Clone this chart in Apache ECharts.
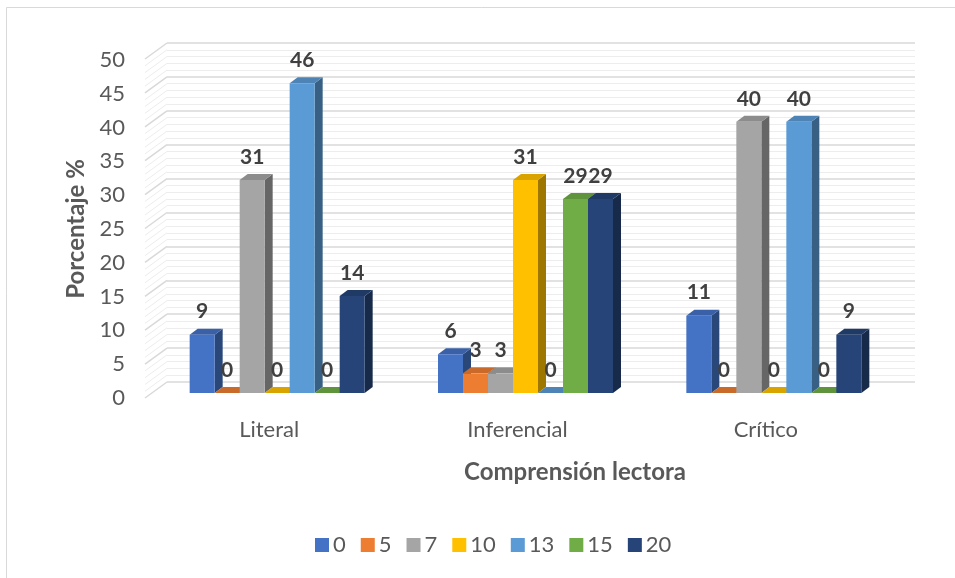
<!DOCTYPE html>
<html>
<head>
<meta charset="utf-8">
<script src="https://cdn.jsdelivr.net/npm/echarts@6/dist/echarts.min.js"></script>
<style>
  html, body { margin: 0; padding: 0; background: #fff; }
  #main { width: 955px; height: 578px; }
</style>
</head>
<body>
<div id="main"></div>
<script>
// categorias y valores (porcentaje por grupo)
var categories = ["Literal", "Inferencial", "Crítico"];
var seriesNames = ["0", "5", "7", "10", "13", "15", "20"];
var s0 = [8.6, 5.7, 11.4];
var s5 = [0, 2.9, 0];
var s7 = [31.4, 2.9, 40];
var s10 = [0, 31.4, 0];
var s13 = [45.7, 0, 40];
var s15 = [0, 28.6, 0];
var s20 = [14.3, 28.6, 8.6];
var seriesValues = [s0, s5, s7, s10, s13, s15, s20];
var colors = ["#4472C4", "#ED7D31", "#A5A5A5", "#FFC000", "#5B9BD5", "#70AD47", "#264478"];
var yTicks = { min: 0, max: 50, interval: 5 };

var FONT = "Lato, 'Open Sans', sans-serif";
var BAR_W = 25;
var DX = 8, DY = -6;

function shade(hex, f) {
  var n = parseInt(hex.slice(1), 16);
  var r = Math.round(((n >> 16) & 255) * f);
  var g = Math.round(((n >> 8) & 255) * f);
  var b = Math.round((n & 255) * f);
  return "rgb(" + r + "," + g + "," + b + ")";
}

var chart = echarts.init(document.getElementById("main"));

// pared lateral: diagonales de la rejilla
function renderSideWall(params, api) {
  var children = [];
  for (var v = yTicks.min; v <= yTicks.max; v++) {
    var p = api.coord([0, v]);
    children.push({
      type: "line",
      shape: { x1: p[0], y1: p[1], x2: p[0] - 22, y2: p[1] + 16 },
      style: { stroke: v % 5 === 0 ? "#d9d9d9" : "#ededed", lineWidth: v % 5 === 0 ? 1.5 : 1 }
    });
  }
  return { type: "group", children: children };
}

function makeBarRenderer(s) {
  return function (params, api) {
    var cat = api.value(0), val = api.value(1);
    var base = api.coord([cat, 0]);
    var top = api.coord([cat, val]);
    var x0 = base[0] + (s - 3.5) * BAR_W;
    var x1 = x0 + BAR_W;
    var yb = base[1], yt = top[1];
    var c = colors[s];
    return {
      type: "group",
      children: [
        { type: "polygon", shape: { points: [[x1, yt], [x1 + DX, yt + DY], [x1 + DX, yb + DY], [x1, yb]] },
          style: { fill: shade(c, 0.62) } },
        { type: "polygon", shape: { points: [[x0, yt], [x0 + DX, yt + DY], [x1 + DX, yt + DY], [x1, yt]] },
          style: { fill: shade(c, 0.85) } },
        { type: "rect", shape: { x: x0, y: yt, width: BAR_W, height: Math.max(yb - yt, 0) },
          style: { fill: c } },
        { type: "text", x: x0 + BAR_W / 2, y: yt - 23,
          style: { text: String(Math.round(val)), align: "center", verticalAlign: "middle",
                   fill: "#404040", font: "bold 21px " + FONT } }
      ]
    };
  };
}

var barSeries = seriesNames.map(function (name, s) {
  return {
    name: name,
    type: "custom",
    xAxisIndex: 1,
    yAxisIndex: 1,
    itemStyle: { color: colors[s] },
    renderItem: makeBarRenderer(s),
    encode: { x: 0, y: 1 },
    data: seriesValues[s].map(function (v, i) { return [i, v]; }),
    z: 3
  };
});

var option = {
  backgroundColor: "#fff",
  animation: false,
  textStyle: { fontFamily: FONT },
  grid: [
    // pared del fondo
    { left: 167, right: 40, top: 43, bottom: 196 },
    // barras
    { left: 153, right: 57, top: 54, bottom: 185 },
    // etiquetas (borde frontal)
    { left: 145, right: 65, top: 60, bottom: 180 }
  ],
  xAxis: [
    { gridIndex: 0, type: "value", min: 0, max: 1, show: false },
    { gridIndex: 1, type: "category", data: categories, show: false },
    { gridIndex: 2, type: "category", data: categories,
      axisLine: { show: false }, axisTick: { show: false },
      axisLabel: { margin: 21, fontSize: 22, color: "#595959", fontFamily: FONT } }
  ],
  yAxis: [
    { gridIndex: 0, type: "value", min: yTicks.min, max: yTicks.max, interval: yTicks.interval,
      axisLabel: { show: false }, axisLine: { show: false }, axisTick: { show: false },
      splitLine: { lineStyle: { color: "#d9d9d9", width: 1.5 } },
      minorTick: { show: false, splitNumber: 5 },
      minorSplitLine: { show: true, lineStyle: { color: "#ededed", width: 1 } } },
    { gridIndex: 1, type: "value", min: yTicks.min, max: yTicks.max, interval: yTicks.interval,
      show: false, splitLine: { show: false } },
    { gridIndex: 2, type: "value", min: yTicks.min, max: yTicks.max, interval: yTicks.interval,
      axisLine: { show: false }, axisTick: { show: false }, splitLine: { show: false },
      axisLabel: { margin: 20, fontSize: 22, color: "#595959", fontFamily: FONT },
      name: "Porcentaje %", nameLocation: "middle", nameGap: 53,
      nameTextStyle: { fontSize: 24, fontWeight: "bold", color: "#595959", fontFamily: FONT } }
  ],
  legend: {
    data: seriesNames,
    bottom: 17,
    left: 310,
    icon: "rect",
    itemWidth: 14,
    itemHeight: 14,
    itemGap: 15,
    textStyle: { fontSize: 22, color: "#595959", fontFamily: FONT, padding: [0, 0, 0, -1] }
  },
  graphic: [
    { type: "rect", shape: { x: 6.5, y: 7.5, width: 1000, height: 600 },
      style: { fill: "none", stroke: "#d9d9d9", lineWidth: 1 }, silent: true },
    { type: "text", x: 575, y: 472,
      style: { text: "Comprensión lectora", align: "center", verticalAlign: "middle",
               font: "bold 24px " + FONT, fill: "#595959" } }
  ],
  series: [
    { type: "custom", xAxisIndex: 0, yAxisIndex: 0, renderItem: renderSideWall,
      data: [[0, 0]], silent: true, z: 1 }
  ].concat(barSeries)
};

chart.setOption(option);
</script>
</body>
</html>
